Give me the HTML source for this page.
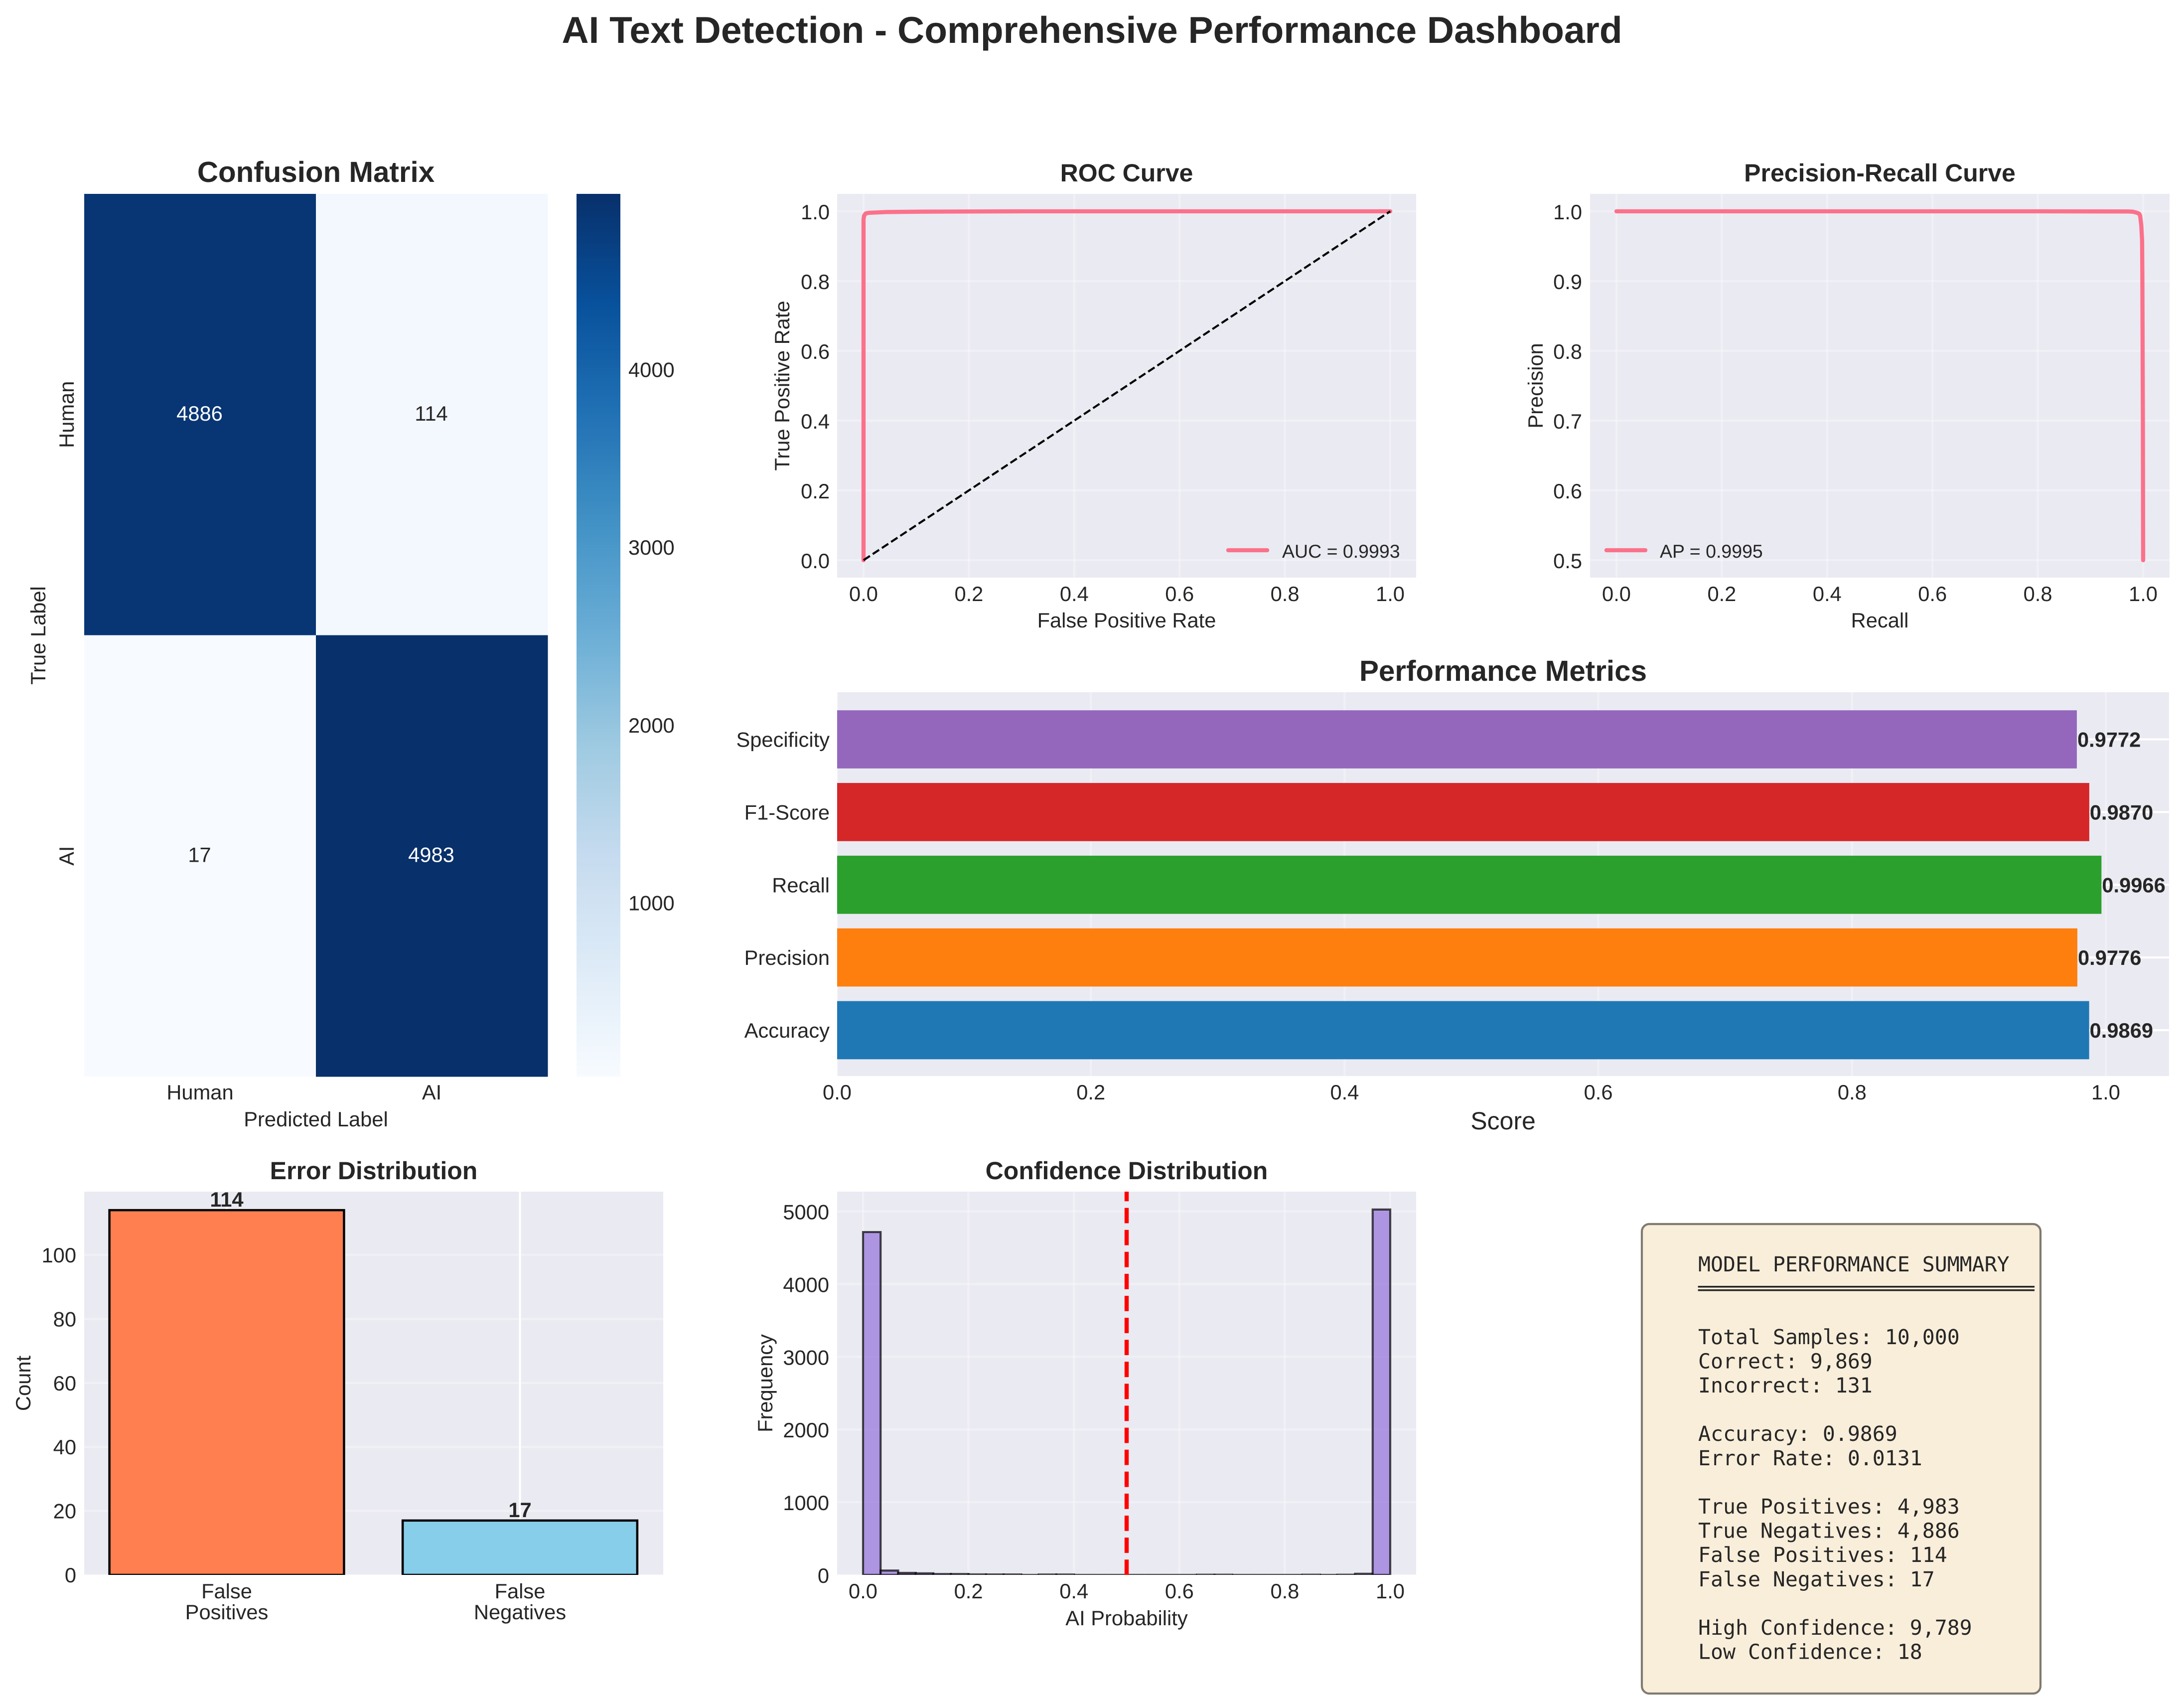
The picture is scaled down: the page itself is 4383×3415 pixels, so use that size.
<!DOCTYPE html>
<html lang="en">
<head>
<meta charset="utf-8">
<title>AI Text Detection - Comprehensive Performance Dashboard</title>
<style>
  html, body { margin: 0; padding: 0; background: #ffffff; }
  svg { display: block; }
  text { font-family: "Liberation Sans", Arial, sans-serif; fill: #262626; font-size: 41.67px; text-rendering: geometricPrecision; }
  .bold { font-weight: bold; }
  .t18 { font-size: 75px; font-weight: bold; }
  .t14 { font-size: 58.33px; font-weight: bold; }
  .t12 { font-size: 50px; font-weight: bold; }
  .lab12 { font-size: 50px; }
  .mid { text-anchor: middle; }
  .end { text-anchor: end; }
  .legend { font-size: 37.5px; }
  .mono { font-family: "DejaVu Sans Mono", "Liberation Mono", monospace; font-size: 41.5px; }
</style>
</head>
<body>
<svg id="chart" xmlns="http://www.w3.org/2000/svg" width="4383" height="3415" viewBox="0 0 4383 3415">
  <defs>
    <linearGradient id="blues-gradient" x1="0" y1="1" x2="0" y2="0"></linearGradient>
    <clipPath id="clip-roc"><rect x="1680" y="389" width="1162" height="770"/></clipPath>
    <clipPath id="clip-pr"><rect x="3191" y="389" width="1163" height="770"/></clipPath>
    <clipPath id="clip-metrics"><rect x="1680" y="1389" width="2673" height="770"/></clipPath>
    <clipPath id="clip-error"><rect x="169" y="2391" width="1162" height="769"/></clipPath>
    <clipPath id="clip-conf"><rect x="1680" y="2391" width="1162" height="769"/></clipPath>
  </defs>

  <rect x="0" y="0" width="4383" height="3415" fill="#ffffff"/>
  <text class="t18 mid" x="2191.5" y="86">AI Text Detection - Comprehensive Performance Dashboard</text>

  <g id="heatmap">
    <text class="t14 mid" x="634" y="365">Confusion Matrix</text>
    <text class="mid" x="634" y="2260">Predicted Label</text>
    <text class="mid" transform="translate(91 1275) rotate(-90)">True Label</text>
  </g>

  <g id="roc">
    <text class="t12 mid" x="2261" y="364">ROC Curve</text>
    <text class="mid" x="2261" y="1259">False Positive Rate</text>
    <text class="mid" transform="translate(1584 774) rotate(-90)">True Positive Rate</text>
  </g>

  <g id="pr">
    <text class="t12 mid" x="3772.5" y="364">Precision-Recall Curve</text>
    <text class="mid" x="3772.5" y="1259">Recall</text>
    <text class="mid" transform="translate(3096 774) rotate(-90)">Precision</text>
  </g>

  <g id="metrics">
    <text class="t14 mid" x="3016.5" y="1366">Performance Metrics</text>
    <text class="lab12 mid" x="3016.5" y="2266">Score</text>
  </g>

  <g id="error">
    <text class="t12 mid" x="750" y="2366">Error Distribution</text>
    <text class="mid" transform="translate(61 2775.5) rotate(-90)">Count</text>
  </g>

  <g id="conf">
    <text class="t12 mid" x="2261" y="2366">Confidence Distribution</text>
    <text class="mid" x="2261" y="3261">AI Probability</text>
    <text class="mid" transform="translate(1550 2775.5) rotate(-90)">Frequency</text>
  </g>

  <g>
    <rect x="3295" y="2456" width="800" height="942" rx="15" ry="15" fill="#f9eeda" stroke="#7f7b72" stroke-width="4.2"/>
    <text class="mono" x="3408" y="2551">MODEL PERFORMANCE SUMMARY</text>
    <text class="mono" x="3408" y="2599.6">═══════════════════════════</text>
    <text class="mono" x="3408" y="2696.8">Total Samples: 10,000</text>
    <text class="mono" x="3408" y="2745.4">Correct: 9,869</text>
    <text class="mono" x="3408" y="2794">Incorrect: 131</text>
    <text class="mono" x="3408" y="2891.2">Accuracy: 0.9869</text>
    <text class="mono" x="3408" y="2939.8">Error Rate: 0.0131</text>
    <text class="mono" x="3408" y="3037">True Positives: 4,983</text>
    <text class="mono" x="3408" y="3085.6">True Negatives: 4,886</text>
    <text class="mono" x="3408" y="3134.2">False Positives: 114</text>
    <text class="mono" x="3408" y="3182.8">False Negatives: 17</text>
    <text class="mono" x="3408" y="3280">High Confidence: 9,789</text>
    <text class="mono" x="3408" y="3328.6">Low Confidence: 18</text>
  </g>
</svg>

<script>
// ---- chart data ----
const matrixLabels = ["Human", "AI"];
const matrixRow0 = [4886, 114];
const matrixRow1 = [17, 4983];
const colorbarTicks = [1000, 2000, 3000, 4000];
const colorbarMin = 17;
const colorbarMax = 4983;

const rocFpr = [0, 0, 0, 0.001, 0.004, 0.0095, 0.044, 0.11, 0.3, 1];
const rocTpr = [0, 0.6, 0.977, 0.987, 0.9938, 0.9957, 0.998, 0.999, 1, 1];
const diagonalX = [0, 1];
const diagonalY = [0, 1];
const rocXTicks = ["0.0", "0.2", "0.4", "0.6", "0.8", "1.0"];
const rocYTicks = ["0.0", "0.2", "0.4", "0.6", "0.8", "1.0"];

const prRecall = [0, 0.5, 0.8, 0.97, 0.98, 0.988, 0.9925, 0.9943, 0.9965, 0.998, 0.9985, 0.9995, 1];
const prPrecision = [1, 1, 1, 0.9998, 0.9995, 0.998, 0.9965, 0.9936, 0.98, 0.958, 0.91, 0.7, 0.5];
const prXTicks = ["0.0", "0.2", "0.4", "0.6", "0.8", "1.0"];
const prYTicks = ["0.5", "0.6", "0.7", "0.8", "0.9", "1.0"];

const metricNames = ["Accuracy", "Precision", "Recall", "F1-Score", "Specificity"];
const metricValues = [0.9869, 0.9776, 0.9966, 0.9870, 0.9772];
const metricColors = ["#1f77b4", "#ff7f0e", "#2ca02c", "#d62728", "#9467bd"];
const metricTicks = ["0.0", "0.2", "0.4", "0.6", "0.8", "1.0"];

const errorNames = [["False", "Positives"], ["False", "Negatives"]];
const errorValues = [114, 17];
const errorColors = ["#ff7f50", "#87ceeb"];
const errorTicks = [0, 20, 40, 60, 80, 100];

const histCounts = [4715, 60, 28, 22, 12, 12, 7, 6, 6, 0, 5, 5, 0, 0, 0, 0, 0, 0, 0, 3, 3, 0, 0, 0, 0, 3, 0, 3, 16, 5025];
const histThreshold = 0.5;
const confXTicks = ["0.0", "0.2", "0.4", "0.6", "0.8", "1.0"];
const confYTicks = [0, 1000, 2000, 3000, 4000, 5000];

const aucLabel = "AUC = 0.9993";
const apLabel = "AP = 0.9995";

// ---- helpers ----
const SVG_NS = "http://www.w3.org/2000/svg";
const blueStops = ["#f7fbff", "#deebf7", "#c6dbef", "#9ecae1", "#6baed6", "#4292c6", "#2171b5", "#08519c", "#08306b"];
const BG = "#eaeaf2";

function make(parent, tag, attrs, text) {
  const node = document.createElementNS(SVG_NS, tag);
  for (const k in attrs) node.setAttribute(k, attrs[k]);
  if (text !== undefined) node.textContent = text;
  parent.appendChild(node);
  return node;
}
function scale(d0, d1, r0, r1) {
  return function (v) { return r0 + (v - d0) / (d1 - d0) * (r1 - r0); };
}
function hexRgb(h) {
  return [parseInt(h.slice(1, 3), 16), parseInt(h.slice(3, 5), 16), parseInt(h.slice(5, 7), 16)];
}
function blues(t) {
  const p = Math.max(0, Math.min(1, t)) * (blueStops.length - 1);
  const i = Math.min(Math.floor(p), blueStops.length - 2);
  const a = hexRgb(blueStops[i]), b = hexRgb(blueStops[i + 1]), f = p - i;
  return "rgb(" + a.map(function (c, j) { return Math.round(c + (b[j] - c) * f); }).join(",") + ")";
}
function linePath(xs, ys, sx, sy) {
  return xs.map(function (x, i) { return (i ? "L" : "M") + sx(x).toFixed(2) + " " + sy(ys[i]).toFixed(2); }).join(" ");
}
function gridLine(parent, x1, y1, x2, y2, opacity) {
  return make(parent, "line", { x1: x1, y1: y1, x2: x2, y2: y2, stroke: "#ffffff", "stroke-width": 4.17, "stroke-opacity": opacity });
}

const TICK_DY = 16;      // baseline offset for y tick labels
const XTICK_GAP = 47;    // baseline offset for x tick labels

// ---- confusion matrix ----
(function () {
  const g = document.getElementById("heatmap");
  const left = 169, right = 1099, top = 389, bottom = 2160;
  const cw = (right - left) / 2, ch = (bottom - top) / 2;
  const rows = [matrixRow0, matrixRow1];
  const colorOf = scale(colorbarMin, colorbarMax, 0, 1);
  rows.forEach(function (row, r) {
    row.forEach(function (v, c) {
      const t = colorOf(v);
      const cell = make(g, "rect", { x: left + c * cw, y: top + r * ch, width: cw + 0.5, height: ch + 0.5, fill: blues(t) });
      
      
      const label = make(g, "text", { class: "mid", x: left + (c + 0.5) * cw - 1, y: top + (r + 0.5) * ch + 12, style: t > 0.5 ? "fill:#ffffff" : "" }, String(v));
      
      
    });
  });
  matrixLabels.forEach(function (name, i) {
    const xt = make(g, "text", { class: "mid", x: left + (i + 0.5) * cw, y: bottom + 46 }, name);
    
    
    const yt = make(g, "text", { class: "mid", transform: "translate(148 " + (top + (i + 0.5) * ch) + ") rotate(-90)" }, name);
    
    
  });
  // colorbar
  const grad = document.getElementById("blues-gradient");
  blueStops.forEach(function (col, i) {
    make(grad, "stop", { offset: (i / (blueStops.length - 1)), "stop-color": col });
  });
  const bar = make(g, "rect", { x: 1157, y: top, width: 88, height: bottom - top, fill: "url(#blues-gradient)" });
  
  
  const sy = scale(colorbarMin, colorbarMax, bottom, top);
  colorbarTicks.forEach(function (v) {
    const tk = make(g, "text", { x: 1261, y: sy(v) + 17 }, String(v));
    
    
  });
})();

// ---- ROC / PR shared ----
function curvePanel(id, clip, box, sx, sy, xTicks, yTicks, labelRight, xs, ys, legendText, legendX, labelGap) {
  const g = document.getElementById(id);
  const bg = make(g, "rect", { x: box.l, y: box.t, width: box.r - box.l, height: box.b - box.t, fill: BG });
  
  
  const clipped = make(g, "g", { "clip-path": "url(#" + clip + ")" });
  
  
  xTicks.forEach(function (s) {
    const x = sx(parseFloat(s));
    const gl = gridLine(clipped, x, box.t, x, box.b, 0.3);
    
    
    const tk = make(g, "text", { class: "mid", x: x, y: box.b + XTICK_GAP }, s);
    
    
  });
  yTicks.forEach(function (s) {
    const y = sy(parseFloat(s));
    const gl = gridLine(clipped, box.l, y, box.r, y, 0.3);
    
    
    const tk = make(g, "text", { class: "end", x: labelRight, y: y + TICK_DY }, s);
    
    
  });
  const curve = make(clipped, "path", { d: linePath(xs, ys, sx, sy), fill: "none", stroke: "#fb718a", "stroke-width": 8.33, "stroke-linecap": "round", "stroke-linejoin": "round" });
  
  
  const key = make(g, "line", { x1: legendX, y1: 1104, x2: legendX + 78, y2: 1104, stroke: "#fb718a", "stroke-width": 8.33, "stroke-linecap": "round" });
  
  
  const txt = make(g, "text", { class: "legend", x: legendX + labelGap, y: 1119 }, legendText);
  
  
  return clipped;
}

(function () {
  const sx = scale(0, 1, 1733, 2790), sy = scale(0, 1, 1124, 424);
  const clipped = curvePanel("roc", "clip-roc", { l: 1680, r: 2842, t: 389, b: 1159 }, sx, sy, rocXTicks, rocYTicks, 1665, rocFpr, rocTpr, aucLabel, 2465, 108);
  const diag = make(clipped, "path", { d: linePath(diagonalX, diagonalY, sx, sy), fill: "none", stroke: "#000000", "stroke-width": 4.17, "stroke-dasharray": "15.4 6.7" });
  
  
})();

(function () {
  const sx = scale(0, 1, 3244, 4301), sy = scale(0.5, 1, 1124, 424);
  curvePanel("pr", "clip-pr", { l: 3191, r: 4354, t: 389, b: 1159 }, sx, sy, prXTicks, prYTicks, 3175, prRecall, prPrecision, apLabel, 3224, 107);
})();

// ---- performance metrics ----
(function () {
  const g = document.getElementById("metrics");
  const l = 1680, r = 4353, t = 1389, b = 2159;
  const sx = scale(0, 1, l, 4226);
  const sy = scale(0, 4, 2067, 1483.5);
  const bandH = (sy(0) - sy(1)) * 0.8;
  const bg = make(g, "rect", { x: l, y: t, width: r - l, height: b - t, fill: BG });
  
  
  metricTicks.forEach(function (s) {
    const x = sx(parseFloat(s));
    const gl = gridLine(g, x, t, x, b, 0.3);
    
    
    const tk = make(g, "text", { class: "mid", x: x, y: b + XTICK_GAP }, s);
    
    
  });
  metricNames.forEach(function (name, i) {
    const y = sy(i);
    const gl = gridLine(g, l, y, r, y, 1);
    
    
    const bar = make(g, "rect", { x: l, y: y - bandH / 2, width: sx(metricValues[i]) - l, height: bandH, fill: metricColors[i] });
    
    
    const tk = make(g, "text", { class: "end", x: 1665, y: y + 15 }, name);
    
    
    const val = make(g, "text", { class: "bold", x: sx(metricValues[i]) + 1, y: y + 15 }, metricValues[i].toFixed(4));
    
    
  });
})();

// ---- error distribution ----
(function () {
  const g = document.getElementById("error");
  const l = 169, r = 1331, t = 2391, b = 3160;
  const sx = scale(0, 1, 455, 1043.5);
  const sy = scale(0, 100, b, 2518);
  const barW = (sx(1) - sx(0)) * 0.8;
  const bg = make(g, "rect", { x: l, y: t, width: r - l, height: b - t, fill: BG });
  
  
  const clipped = make(g, "g", { "clip-path": "url(#clip-error)" });
  
  
  errorTicks.forEach(function (v) {
    const y = sy(v);
    const gl = gridLine(clipped, l, y, r, y, 0.3);
    
    
    const tk = make(g, "text", { class: "end", x: 153, y: y + 15 }, String(v));
    
    
  });
  errorValues.forEach(function (v, i) {
    const x = sx(i);
    const gl = gridLine(clipped, x, t, x, b, 1);
    
    
    const bar = make(clipped, "rect", { x: x - barW / 2, y: sy(v), width: barW, height: b - sy(v), fill: errorColors[i], stroke: "#000000", "stroke-width": 4.5 });
    
    
    const val = make(g, "text", { class: "bold mid", x: x, y: sy(v) - 7 }, String(v));
    
    
    errorNames[i].forEach(function (line, j) {
      const tk = make(g, "text", { class: "mid", x: x, y: 3207 + j * 42 }, line);
      
      
    });
  });
})();

// ---- confidence distribution ----
(function () {
  const g = document.getElementById("conf");
  const l = 1680, r = 2842, t = 2391, b = 3160;
  const sx = scale(0, 1, 1732, 2790);
  const sy = scale(0, 5000, b, 2430.5);
  const bg = make(g, "rect", { x: l, y: t, width: r - l, height: b - t, fill: BG });
  
  
  const clipped = make(g, "g", { "clip-path": "url(#clip-conf)" });
  
  
  confXTicks.forEach(function (s) {
    const x = sx(parseFloat(s));
    const gl = gridLine(clipped, x, t, x, b, 0.3);
    
    
    const tk = make(g, "text", { class: "mid", x: x, y: b + XTICK_GAP }, s);
    
    
  });
  confYTicks.forEach(function (v) {
    const y = sy(v);
    const gl = gridLine(clipped, l, y, r, y, 0.3);
    
    
    const tk = make(g, "text", { class: "end", x: 1664, y: y + 16 }, String(v));
    
    
  });
  histCounts.forEach(function (v, i) {
    const x0 = sx(i / histCounts.length), x1 = sx((i + 1) / histCounts.length);
    const bin = make(clipped, "path", { d: "M" + x0 + " " + b + " V" + sy(v) + " H" + x1 + " V" + b + " Z", fill: "#9370db", "fill-opacity": 0.7, stroke: "#000000", "stroke-opacity": 0.7, "stroke-width": 4.17 });
    
    
  });
  const th = make(clipped, "line", { x1: sx(histThreshold), y1: b, x2: sx(histThreshold), y2: t, stroke: "#ff0000", "stroke-width": 8.33, "stroke-dasharray": "30.8 13.3" });
  
  
})();
</script>
</body>
</html>
